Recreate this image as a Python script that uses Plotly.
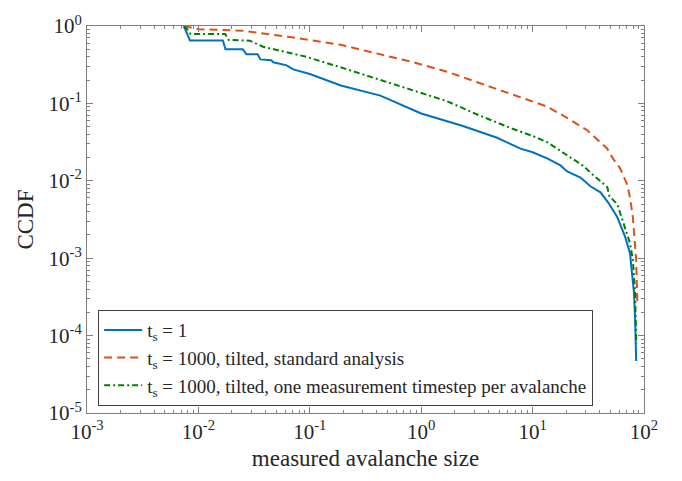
import plotly.graph_objects as go

# CCDF of measured avalanche sizes, t_s = 1
size_ts1 = [0.0074, 0.0084, 0.0166, 0.0175, 0.025, 0.027, 0.034, 0.036, 0.045, 0.047,
            0.062, 0.071, 0.1, 0.19, 0.43, 1.0, 2.37, 4.8, 7.8, 10.0, 13.5, 17.8,
            20.4, 26.9, 33.0, 40.7, 47.9, 57.5, 67.6, 75.0, 77.6, 81.3, 83.2, 85.1]
ccdf_ts1 = [1.0, 0.65, 0.65, 0.50, 0.50, 0.43, 0.43, 0.37, 0.36, 0.34,
            0.31, 0.275, 0.24, 0.17, 0.126, 0.074, 0.051, 0.036, 0.026, 0.0234, 0.0195, 0.0158,
            0.0132, 0.011, 0.0085, 0.0071, 0.0052, 0.0034, 0.0019, 0.00115, 6.9e-4, 3.6e-4, 1.66e-4, 4.7e-5]

# t_s = 1000, tilted, standard analysis
size_std = [0.0074, 0.0100, 0.025, 0.066, 0.186, 0.43, 0.85, 1.7, 3.4, 6.6, 13.5,
            20.4, 30.9, 46.8, 52.5, 61.0, 70.8, 75.0, 79.4, 85.1, 87.1]
ccdf_std = [1.0, 0.91, 0.87, 0.72, 0.575, 0.43, 0.34, 0.257, 0.182, 0.129, 0.091,
            0.065, 0.045, 0.026, 0.0195, 0.0145, 0.0089, 0.006, 0.0034, 9.5e-4, 2.7e-4]

# t_s = 1000, tilted, one measurement timestep per avalanche
size_one = [0.0074, 0.0080, 0.0085, 0.0174, 0.0187, 0.029, 0.038, 0.051, 0.093, 0.186,
            0.43, 0.85, 1.7, 3.4, 6.6, 10.0, 13.5, 20.4, 28.2, 34.7, 40.7, 46.8,
            49.0, 57.5, 64.6, 75.0, 79.4, 83.2, 85.1]
ccdf_one = [1.0, 0.9, 0.79, 0.79, 0.66, 0.645, 0.54, 0.49, 0.40, 0.295,
            0.2, 0.148, 0.107, 0.069, 0.047, 0.038, 0.0316, 0.0214, 0.0158, 0.012, 0.0098, 0.0083,
            0.0063, 0.005, 0.003, 0.00155, 9.5e-4, 3.6e-4, 7.8e-5]

x_decades = [-3, -2, -1, 0, 1, 2]
y_decades = [-5, -4, -3, -2, -1, 0]

x_tickvals = [10.0 ** d for d in x_decades]
x_ticktext = [f"10<sup>{d}</sup>" for d in x_decades]
y_tickvals = [10.0 ** d for d in y_decades]
y_ticktext = [f"10<sup>{d}</sup>" for d in y_decades]

# minor ticks at 2..9 within each decade
x_minor = [m * 10.0 ** d for d in x_decades[:-1] for m in range(2, 10)]
y_minor = [m * 10.0 ** d for d in y_decades[:-1] for m in range(2, 10)]

series_names = ["t<sub>s</sub> = 1",
                "t<sub>s</sub> = 1000, tilted, standard analysis",
                "t<sub>s</sub> = 1000, tilted, one measurement timestep per avalanche"]

FONT = "'Liberation Serif', 'Times New Roman', serif"
AXIS_COLOR = "#808080"
TEXT_COLOR = "#262626"

fig = go.Figure()
fig.add_trace(go.Scatter(x=size_ts1, y=ccdf_ts1, mode="lines", name=series_names[0],
                         legendgroup="g1",
                         line=dict(color="#0072BD", width=2)))
fig.add_trace(go.Scatter(x=size_std, y=ccdf_std, mode="lines", name=series_names[1],
                         legendgroup="g2",
                         line=dict(color="#D95319", width=2, dash="8px,5px")))
fig.add_trace(go.Scatter(x=size_one, y=ccdf_one, mode="lines", name=series_names[2],
                         legendgroup="g3",
                         line=dict(color="#008000", width=2, dash="6px,3px,2px,3px")))

axis_common = dict(
    type="log",
    showgrid=False,
    zeroline=False,
    showline=True,
    linecolor=AXIS_COLOR,
    linewidth=1,
    mirror="allticks",
    ticks="inside",
    ticklen=6,
    tickcolor=AXIS_COLOR,
    tickfont=dict(family=FONT, size=21, color=TEXT_COLOR),
)

fig.update_xaxes(range=[-3, 2], tickmode="array", tickvals=x_tickvals, ticktext=x_ticktext,
                 minor=dict(tickmode="array", tickvals=x_minor, ticks="inside", ticklen=3,
                            tickcolor=AXIS_COLOR, showgrid=False),
                 title=dict(text="measured avalanche size", standoff=6,
                            font=dict(family=FONT, size=23, color=TEXT_COLOR)),
                 **axis_common)
fig.update_yaxes(range=[-5, 0], tickmode="array", tickvals=y_tickvals, ticktext=y_ticktext,
                 minor=dict(tickmode="array", tickvals=y_minor, ticks="inside", ticklen=3,
                            tickcolor=AXIS_COLOR, showgrid=False),
                 title=dict(text="CCDF", standoff=8,
                            font=dict(family=FONT, size=23, color=TEXT_COLOR)),
                 **axis_common)

fig.update_layout(
    width=682, height=481,
    margin=dict(l=87, r=38, t=18, b=68),
    paper_bgcolor="white",
    plot_bgcolor="white",
    font=dict(family=FONT, color=TEXT_COLOR),
    legend=dict(
        x=0.02, y=0.018, xanchor="left", yanchor="bottom",
        bgcolor="white", bordercolor="#404040", borderwidth=1,
        font=dict(family=FONT, size=19, color=TEXT_COLOR),
        itemwidth=38,
        tracegroupgap=0,
    ),
)

fig.write_html("out.html")
